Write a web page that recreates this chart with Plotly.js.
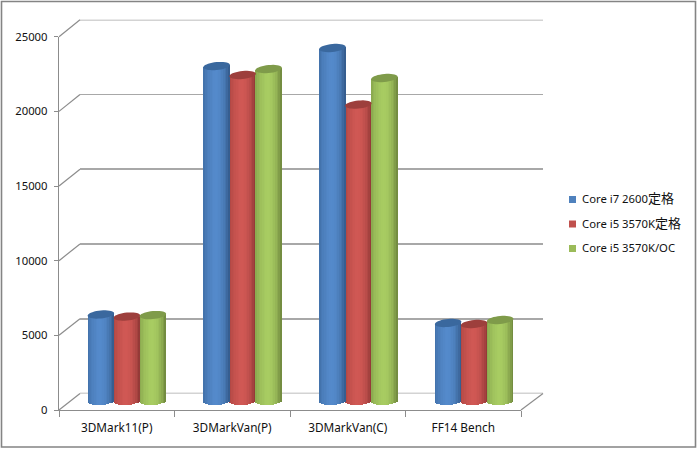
<!DOCTYPE html>
<html><head><meta charset="utf-8">
<script src="https://cdn.plot.ly/plotly-3.0.1.min.js"></script>
<style>html,body{margin:0;padding:0;background:#fff}#c{width:697px;height:449px}</style>
</head><body><div id="c"></div>
<script>
const categories = ['3DMark11(P)','3DMarkVan(P)','3DMarkVan(C)','FF14 Bench'];
const seriesNames = ['Core i7 2600','Core i5 3570K','Core i5 3570K/OC'];
const seriesSuffix = ['定格','定格',''];
const core_i7_2600 = [5800,22450,23660,5230];
const core_i5_3570k = [5660,21850,19870,5160];
const core_i5_3570k_oc = [5760,22250,21650,5430];
const seriesValues = [core_i7_2600,core_i5_3570k,core_i5_3570k_oc];
const tickValues = [0,5000,10000,15000,20000,25000];

const W=697,H=449;
const px=x=>x/W, py=y=>1-y/H;
const FONT='"Noto Sans","Noto Sans CJK JP",sans-serif';
const GRID='#a8a8a8', AXIS='#8c8c8c';

// geometry of the pseudo-3D box (pixels)
const front={l:59,r:521,t:36.7,b:410}, back={l:80,r:543,t:19.7,b:393.5};
const barPlane={l:69,r:532,zero:401,top:28};
const unitPerPx=25000/(barPlane.zero-barPlane.top);
const xUnitPerPx=4/(barPlane.r-barPlane.l);
const yPad=500, barBottomPx=barPlane.zero+yPad/unitPerPx;

const palettes=[
 {edgeL:[60,104,158],mid:[84,138,203],edgeR:[50,88,135],cap:'#3a689e',legend:'#4f81bd'},
 {edgeL:[165,65,62],mid:[208,88,84],edgeR:[140,54,52],cap:'#9d3f3c',legend:'#c0504d'},
 {edgeL:[128,156,72],mid:[168,204,98],edgeR:[108,132,60],cap:'#7f9b4a',legend:'#9bbb59'}
];
const seriesOffsetPx=[-26,0,26];
const barWidthPx=26.5, strips=16, capH=4, capTilt=1.2;
const drawOrder=[1,0,2];

function shade(p,t){ // t in -1..1, light peak a bit left of centre
  const peak=-0.15; let a,b,f;
  if(t<peak){a=p.edgeL;b=p.mid;f=(t+1)/(peak+1);}else{a=p.mid;b=p.edgeR;f=(t-peak)/(1-peak);}
  f=t<peak?Math.pow(f,0.45):Math.pow(f,2.4);
  return 'rgb('+a.map((v,i)=>Math.round(v+(b[i]-v)*f)).join(',')+')';
}

const traces=[];
// carriers so that the front and back axes are drawn
traces.push({type:'scatter',x:categories,y:categories.map(()=>null),xaxis:'x',yaxis:'y',showlegend:false,hoverinfo:'skip'});
traces.push({type:'scatter',x:[0],y:[null],xaxis:'x2',yaxis:'y2',showlegend:false,hoverinfo:'skip'});

const shapes=[];
drawOrder.forEach(si=>{
  const pal=palettes[si], vals=seriesValues[si], off=seriesOffsetPx[si]*xUnitPerPx, bw=barWidthPx*xUnitPerPx;
  for(let k=0;k<strips;k++){
    const t=-1+(2*k+1)/strips;
    const lift=t*capTilt*unitPerPx;
    const arc=Math.sqrt(Math.max(0,1-t*t))*capH*unitPerPx;
    const base=-arc+lift*0.6;
    traces.push({type:'bar',x:categories.map((c,i)=>i),
      y:vals.map(v=>v+lift-base),base:categories.map(()=>base),
      width:bw/strips*1.12,offset:off-bw/2+bw*k/strips-bw/strips*0.06,
      marker:{color:shade(pal,t),line:{width:0}},
      xaxis:'x3',yaxis:'y3',showlegend:false,hoverinfo:'skip'});
  }
  vals.forEach((v,i)=>{
    let d='';
    for(let a=0;a<36;a++){
      const th=a/36*2*Math.PI;
      const x=i+off+Math.cos(th)*bw/2;
      const y=v+(Math.sin(th)*capH+Math.cos(th)*capTilt)*unitPerPx;
      d+=(a?'L':'M')+x.toFixed(4)+','+y.toFixed(1);
    }
    shapes.push({type:'path',path:d+'Z',xref:'x3',yref:'y3',fillcolor:pal.cap,line:{width:0},layer:'above'});
  });
});

// side-wall diagonals + floor
tickValues.forEach(v=>{
  const f=v/25000;
  const y0=front.b+(front.t-front.b)*f, y1=back.b+(back.t-back.b)*f;
  shapes.push({type:'line',xref:'paper',yref:'paper',x0:px(front.l),y0:py(y0),x1:px(back.l),y1:py(y1),line:{color:AXIS,width:1.2},layer:'below'});
});
// back-wall lines at the two range ends, which the axis does not draw as grid
[0,25000].forEach(v=>{
  shapes.push({type:'line',xref:'paper',yref:'y2',x0:px(back.l),x1:px(back.r),y0:v,y1:v,line:{color:GRID,width:1.6},layer:'below'});
});
shapes.push({type:'line',xref:'paper',yref:'paper',x0:px(front.r),y0:py(front.b),x1:px(back.r),y1:py(back.b),line:{color:AXIS,width:1.2},layer:'below'});
// outer frame
shapes.push({type:'rect',xref:'paper',yref:'paper',x0:px(1.5),y0:py(1.5),x1:px(695.5),y1:py(447),line:{color:'#848484',width:1.6},fillcolor:'rgba(0,0,0,0)',layer:'below'});

// legend
const legendY=[199.5,224,248.5];
const annotations=[];
seriesNames.forEach((n,i)=>{
  shapes.push({type:'rect',xref:'paper',yref:'paper',x0:px(569),x1:px(576),y0:py(legendY[i]-3.5),y1:py(legendY[i]+3.5),fillcolor:palettes[i].legend,line:{width:0},layer:'above'});
  annotations.push({xref:'paper',yref:'paper',x:px(580),y:py(legendY[i]-1.5),xanchor:'left',yanchor:'middle',showarrow:false,align:'left',
    text:n+(seriesSuffix[i]?'<span style="font-size:13px">'+seriesSuffix[i]+'</span>':''),
    font:{family:FONT,size:11.3,color:'#111'}});
});

const layout={
  width:W,height:H,margin:{l:0,r:0,t:0,b:0,pad:0},autosize:false,
  paper_bgcolor:'#fff',plot_bgcolor:'rgba(0,0,0,0)',showlegend:false,barmode:'overlay',
  bargap:0,
  xaxis:{domain:[px(front.l),px(front.r)],type:'category',categoryorder:'array',categoryarray:categories,range:[-0.5,3.5],
    tickson:'boundaries',ticks:'outside',ticklen:6,tickcolor:AXIS,tickwidth:1,showline:true,linecolor:AXIS,linewidth:1.2,showgrid:false,zeroline:false,
    tickfont:{family:FONT,size:11.8,color:'#111'},anchor:'y',ticklabelstandoff:7,fixedrange:true},
  yaxis:{domain:[py(front.b),py(front.t)],range:[0,25000],tickvals:tickValues,ticktext:tickValues.map(String),
    ticks:'outside',ticklen:4,tickcolor:AXIS,tickwidth:1,showline:true,linecolor:AXIS,linewidth:1.2,showgrid:false,zeroline:false,
    tickfont:{family:FONT,size:11.3,color:'#111'},anchor:'x',ticklabelstandoff:4,fixedrange:true},
  xaxis2:{domain:[px(back.l),px(back.r)],range:[0,1],visible:false,anchor:'y2',fixedrange:true},
  yaxis2:{domain:[py(back.b),py(back.t)],range:[0,25000],tickvals:tickValues,showticklabels:false,ticks:'',showgrid:true,gridcolor:GRID,gridwidth:1.6,zeroline:false,showline:false,anchor:'x2',fixedrange:true},
  xaxis3:{domain:[px(barPlane.l),px(barPlane.r)],type:'linear',range:[-0.5,3.5],visible:false,anchor:'y3',fixedrange:true},
  yaxis3:{domain:[py(barBottomPx),py(barPlane.top)],range:[-yPad,25000],visible:false,anchor:'x3',fixedrange:true},
  shapes,annotations
};
Plotly.newPlot('c',traces,layout,{displayModeBar:false,staticPlot:true});
</script></body></html>
